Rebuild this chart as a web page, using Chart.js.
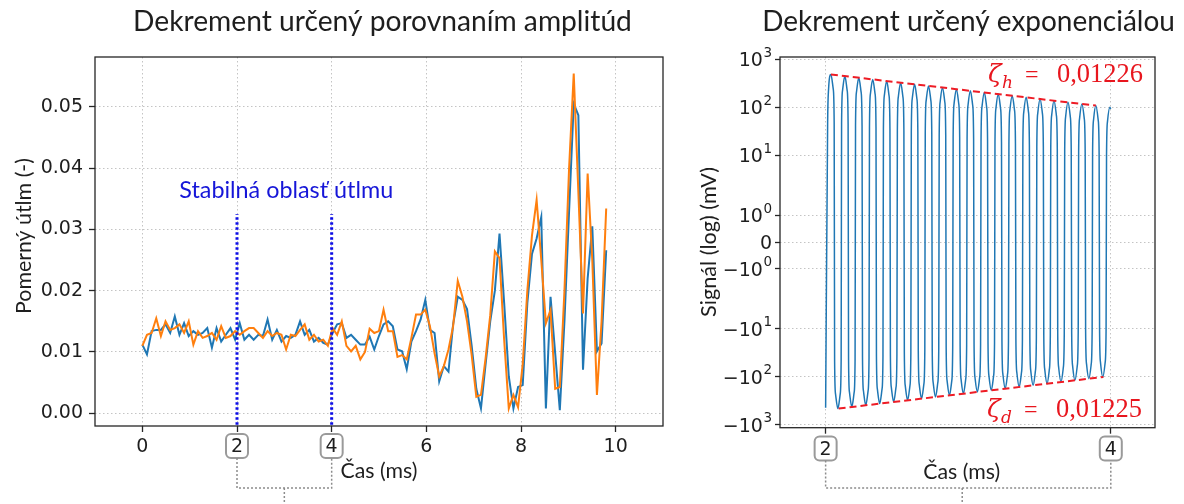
<!DOCTYPE html>
<html><head><meta charset="utf-8">
<script src="https://cdn.jsdelivr.net/npm/chart.js@4.4.1/dist/chart.umd.min.js"></script>
<style>
html,body{margin:0;padding:0;background:#fff;width:1184px;height:504px;overflow:hidden}
#c1{position:absolute;left:0;top:0}
#c2{position:absolute;left:680px;top:0}
</style></head><body>
<canvas id="c1" width="680" height="504"></canvas>
<canvas id="c2" width="504" height="504"></canvas>
<script>
// ---------------- DATA (left chart: damping ratio by amplitude comparison) ----------------
const ampTime = [
0.000,0.098,0.196,0.294,0.392,0.490,0.588,0.686,0.784,0.882,
0.980,1.078,1.176,1.274,1.372,1.470,1.568,1.666,1.764,1.862,
1.960,2.058,2.156,2.254,2.352,2.450,2.548,2.646,2.744,2.842,
2.940,3.038,3.136,3.234,3.332,3.430,3.528,3.626,3.724,3.822,
3.920,4.018,4.116,4.214,4.312,4.410,4.508,4.606,4.704,4.802,
4.900,4.998,5.096,5.194,5.292,5.390,5.488,5.586,5.684,5.782,
5.880,5.978,6.076,6.174,6.272,6.370,6.468,6.566,6.664,6.762,
6.860,6.958,7.056,7.154,7.252,7.350,7.448,7.546,7.644,7.742,
7.840,7.938,8.036,8.134,8.232,8.330,8.428,8.526,8.624,8.722,
8.820,8.918,9.016,9.114,9.212,9.310,9.408,9.506,9.604,9.702,
9.800];
const ampBlue = [
0.0112,0.0096,0.0134,0.0136,0.0136,0.0145,0.0131,0.0158,0.0128,0.0147,
0.0126,0.0134,0.0128,0.0131,0.0139,0.0107,0.0139,0.0117,0.0128,0.0139,
0.0120,0.0147,0.0120,0.0128,0.0120,0.0128,0.0126,0.0153,0.0120,0.0136,
0.0117,0.0126,0.0123,0.0128,0.0150,0.0128,0.0136,0.0117,0.0123,0.0115,
0.0112,0.0131,0.0145,0.0147,0.0123,0.0128,0.0120,0.0112,0.0112,0.0125,
0.0104,0.0126,0.0145,0.0150,0.0142,0.0104,0.0101,0.0072,0.0117,0.0134,
0.0153,0.0185,0.0136,0.0131,0.0052,0.0077,0.0068,0.0145,0.0190,0.0185,
0.0170,0.0110,0.0040,0.0008,0.0080,0.0150,0.0200,0.0293,0.0180,0.0060,
0.0008,0.0043,0.0046,0.0180,0.0260,0.0285,0.0320,0.0008,0.0190,0.0098,
0.0005,0.0150,0.0330,0.0505,0.0486,0.0071,0.0220,0.0305,0.0101,0.0114,
0.0266];
const ampOrange = [
0.0110,0.0128,0.0131,0.0155,0.0126,0.0150,0.0136,0.0139,0.0145,0.0131,
0.0150,0.0112,0.0134,0.0123,0.0126,0.0131,0.0120,0.0142,0.0123,0.0126,
0.0134,0.0128,0.0134,0.0139,0.0139,0.0131,0.0123,0.0134,0.0126,0.0131,
0.0128,0.0104,0.0128,0.0126,0.0136,0.0145,0.0120,0.0128,0.0117,0.0120,
0.0110,0.0139,0.0128,0.0150,0.0110,0.0101,0.0110,0.0088,0.0100,0.0138,
0.0131,0.0134,0.0169,0.0134,0.0134,0.0092,0.0095,0.0088,0.0123,0.0161,
0.0161,0.0169,0.0142,0.0098,0.0060,0.0077,0.0104,0.0142,0.0216,0.0190,
0.0150,0.0095,0.0027,0.0030,0.0090,0.0160,0.0264,0.0253,0.0120,0.0008,
0.0030,0.0010,0.0080,0.0200,0.0290,0.0348,0.0250,0.0147,0.0168,0.0040,
0.0043,0.0200,0.0400,0.0554,0.0360,0.0163,0.0391,0.0250,0.0030,0.0150,
0.0334];
const stableBounds = [2, 4];          // "Stabilná oblasť útlmu" markers (ms)
const stableTop = 0.0325;
const leftXTicks = [0, 2, 4, 6, 8, 10];
const leftYTicks = [0.00, 0.01, 0.02, 0.03, 0.04, 0.05];

// ---------------- DATA (right chart: signal on symlog axis) ----------------
const sigTime = [
2.0000,
2.0141,2.0207,2.0370,2.0533,2.0599, 2.0630,2.0696,2.0859,2.1022,2.1088,
2.1119,2.1185,2.1348,2.1511,2.1577, 2.1608,2.1674,2.1837,2.2000,2.2066,
2.2097,2.2163,2.2326,2.2489,2.2555, 2.2586,2.2652,2.2815,2.2978,2.3044,
2.3075,2.3141,2.3304,2.3467,2.3533, 2.3564,2.3630,2.3793,2.3956,2.4022,
2.4053,2.4119,2.4282,2.4445,2.4511, 2.4542,2.4608,2.4771,2.4934,2.5000,
2.5031,2.5097,2.5260,2.5423,2.5489, 2.5520,2.5586,2.5749,2.5912,2.5978,
2.6009,2.6075,2.6238,2.6401,2.6467, 2.6498,2.6564,2.6727,2.6890,2.6956,
2.6987,2.7053,2.7216,2.7379,2.7445, 2.7476,2.7542,2.7705,2.7868,2.7934,
2.7965,2.8031,2.8194,2.8357,2.8423, 2.8454,2.8520,2.8683,2.8846,2.8912,
2.8943,2.9009,2.9172,2.9335,2.9401, 2.9432,2.9498,2.9661,2.9824,2.9890,
2.9921,2.9987,3.0150,3.0313,3.0379, 3.0410,3.0476,3.0639,3.0802,3.0868,
3.0899,3.0965,3.1128,3.1291,3.1357, 3.1388,3.1454,3.1617,3.1780,3.1846,
3.1877,3.1943,3.2106,3.2269,3.2335, 3.2366,3.2432,3.2595,3.2758,3.2824,
3.2855,3.2921,3.3084,3.3247,3.3313, 3.3344,3.3410,3.3573,3.3736,3.3802,
3.3833,3.3899,3.4062,3.4225,3.4291, 3.4322,3.4388,3.4551,3.4714,3.4780,
3.4811,3.4877,3.5040,3.5203,3.5269, 3.5300,3.5366,3.5529,3.5692,3.5758,
3.5789,3.5855,3.6018,3.6181,3.6247, 3.6278,3.6344,3.6507,3.6670,3.6736,
3.6767,3.6833,3.6996,3.7159,3.7225, 3.7256,3.7322,3.7485,3.7648,3.7714,
3.7745,3.7811,3.7974,3.8137,3.8203, 3.8234,3.8300,3.8463,3.8626,3.8692,
3.8723,3.8789,3.8952,3.9115,3.9181, 3.9212,3.9278,3.9441,3.9604,3.9670,
3.9701,3.9767,3.9930,4.0000];
const sigValue = [
-440,
48,240,480,240,48, -45.5,-227.5,-455,-227.5,-45.5,
44.4,221.9,443.8,221.9,44.4, -42.0,-210.1,-420.2,-210.1,-42.0,
41.0,205.2,410.3,205.2,41.0, -38.8,-194.0,-388.0,-194.0,-38.8,
37.9,189.7,379.4,189.7,37.9, -35.8,-179.2,-358.3,-179.2,-35.8,
35.1,175.4,350.8,175.4,35.1, -33.1,-165.4,-330.8,-165.4,-33.1,
32.4,162.2,324.3,162.2,32.4, -30.6,-152.8,-305.5,-152.8,-30.6,
30.0,150.0,299.9,150.0,30.0, -28.2,-141.1,-282.1,-141.1,-28.2,
27.7,138.7,277.3,138.7,27.7, -26.1,-130.3,-260.5,-130.3,-26.1,
25.6,128.2,256.4,128.2,25.6, -24.1,-120.3,-240.5,-120.3,-24.1,
23.7,118.5,237.0,118.5,23.7, -22.2,-111.1,-222.1,-111.1,-22.2,
21.9,109.6,219.1,109.6,21.9, -20.5,-102.6,-205.1,-102.6,-20.5,
20.3,101.3,202.6,101.3,20.3, -18.9,-94.7,-189.4,-94.7,-18.9,
18.7,93.7,187.3,93.7,18.7, -17.5,-87.5,-174.9,-87.5,-17.5,
17.3,86.6,173.2,86.6,17.3, -16.2,-80.8,-161.5,-80.8,-16.2,
16.0,80.1,160.2,80.1,16.0, -14.9,-74.6,-149.1,-74.6,-14.9,
14.8,74.1,148.1,74.1,14.8, -13.8,-68.9,-137.7,-68.9,-13.8,
13.7,68.5,136.9,68.5,13.7, -12.7,-63.6,-127.1,-63.6,-12.7,
12.7,63.3,126.6,63.3,12.7, -11.7,-58.7,-117.4,-58.7,-11.7,
11.7,58.6,117.1,58.6,11.7, -10.8,-54.2,-108.4,-54.2,-10.8,
10.8,54.1,108.2,54.1,10.8, -10.0,-50.1,-100.1,-50.1,-10.0,
10.0,50.0,100.1,92];
const envTopTime = [2.037, 3.895];
const envTopValue = [480, 108];
const envBotTime = [2.091, 3.948];
const envBotValue = [-455, -100];
const zetaTop = '0,01226';
const zetaBot = '0,01225';
const rightXTicks = [2, 4];
const symTicks = [1000, 100, 10, 1, 0, -1, -10, -100, -1000];
const symTickBase = ['10','10','10','10','0','\u221210','\u221210','\u221210','\u221210'];
const symTickExp  = ['3','2','1','0','','0','1','2','3'];

// ---------------- symlog scale (matplotlib-like, linthresh 2, linscale 1) ----------------
const LINTHRESH = 2, LINSCALE = 1 / (1 - 1 / 10);
function symT(v) { const a = Math.abs(v); return a <= LINTHRESH ? v / LINTHRESH * LINSCALE : Math.sign(v) * (LINSCALE + Math.log10(a / LINTHRESH)); }
function symInv(t) { const a = Math.abs(t); return a <= LINSCALE ? t / LINSCALE * LINTHRESH : Math.sign(t) * LINTHRESH * Math.pow(10, a - LINSCALE); }
class SymLogScale extends Chart.Scale {
  static id = 'symlog';
  static defaults = {};
  parse(raw) { return (typeof raw === 'number' && isFinite(raw)) ? raw : null; }
  determineDataLimits() {
    const mm = this.getMinMax(false);
    this.min = (this.options.min !== undefined) ? this.options.min : mm.min;
    this.max = (this.options.max !== undefined) ? this.options.max : mm.max;
  }
  buildTicks() { return symTicks.map(v => ({ value: v })); }
  configure() { super.configure(); this._t0 = symT(this.min); this._tr = symT(this.max) - this._t0; }
  getPixelForValue(v) { return this.getPixelForDecimal((symT(v) - this._t0) / this._tr); }
  getValueForPixel(p) { return symInv(this.getDecimalForPixel(p) * this._tr + this._t0); }
  getLabelForValue(v) { return String(v); }
}
Chart.register(SymLogScale);

// ---------------- helpers ----------------
const TEXT = '#1e1e1e';
const TICKFONT = { family: "'DejaVu Sans'", size: 19 };
function drawFit(ctx, o) {
  ctx.save();
  ctx.font = (o.style || '') + ' 100px ' + o.family;
  const size = 100 * o.w / ctx.measureText(o.text).width;
  ctx.font = (o.style || '') + ' ' + size + 'px ' + o.family;
  ctx.fillStyle = o.color || TEXT;
  ctx.textAlign = 'center'; ctx.textBaseline = 'middle';
  ctx.translate(o.x, o.y);
  if (o.rot) ctx.rotate(o.rot);
  ctx.fillText(o.text, 0, 0);
  ctx.restore();
}
function frameDraw(chart) {
  const { ctx, chartArea: a } = chart;
  ctx.save(); ctx.strokeStyle = '#262626'; ctx.lineWidth = 1.3;
  ctx.strokeRect(a.left, a.top, a.right - a.left, a.bottom - a.top); ctx.restore();
}
function roundBox(ctx, cx, cy, w, h, r) {
  ctx.beginPath();
  ctx.moveTo(cx - w / 2 + r, cy - h / 2);
  ctx.arcTo(cx + w / 2, cy - h / 2, cx + w / 2, cy + h / 2, r);
  ctx.arcTo(cx + w / 2, cy + h / 2, cx - w / 2, cy + h / 2, r);
  ctx.arcTo(cx - w / 2, cy + h / 2, cx - w / 2, cy - h / 2, r);
  ctx.arcTo(cx - w / 2, cy - h / 2, cx + w / 2, cy - h / 2, r);
  ctx.closePath();
}
function bracket(ctx, xa, xb, yBox, yTop, yLine, yEnd, xMid) {
  ctx.save();
  ctx.strokeStyle = '#9a9a9a'; ctx.lineWidth = 2;
  roundBox(ctx, xa, yBox, 22, 24, 5); ctx.stroke();
  roundBox(ctx, xb, yBox, 22, 24, 5); ctx.stroke();
  ctx.strokeStyle = '#8c8c8c'; ctx.lineWidth = 1.5; ctx.setLineDash([2, 2]);
  ctx.beginPath();
  ctx.moveTo(xa, yTop); ctx.lineTo(xa, yLine); ctx.lineTo(xb, yLine); ctx.lineTo(xb, yTop);
  ctx.moveTo(xMid, yLine); ctx.lineTo(xMid, yEnd);
  ctx.stroke();
  ctx.restore();
}
function gridOpts() {
  return { color: '#c4c4c4', lineWidth: 1, tickColor: '#262626', tickWidth: 1.3, tickLength: 6, drawTicks: true };
}

// ---------------- LEFT CHART ----------------
const leftPlugin = {
  id: 'leftDeco',
  afterDatasetsDraw(chart) { frameDraw(chart); },
  afterDraw(chart) {
    const ctx = chart.ctx, xs = chart.scales.x, ys = chart.scales.y;
    drawFit(ctx, { text: 'Dekrement určený porovnaním amplitúd', x: 382.5, y: 22, w: 499, family: 'Lato' });
    drawFit(ctx, { text: 'Pomerný útlm (-)', x: 24, y: 236, w: 156, family: 'Lato', rot: -Math.PI / 2 });
    drawFit(ctx, { text: 'Čas (ms)', x: (xs.left + xs.right) / 2, y: 471, w: 77, family: 'Lato' });
    drawFit(ctx, { text: 'Stabilná oblasť útlmu', x: xs.getPixelForValue(3.04), y: ys.getPixelForValue(0.0363), w: 214, family: 'Lato', color: '#1616d8' });
    const xa = xs.getPixelForValue(stableBounds[0]), xb = xs.getPixelForValue(stableBounds[1]);
    bracket(ctx, xa, xb, 446, 458, 488, 504, (xa + xb) / 2);
  }
};
new Chart(document.getElementById('c1'), {
  type: 'line',
  data: {
    datasets: [
      { data: ampTime.map((t, i) => ({ x: t, y: ampBlue[i] })), borderColor: '#1f77b4', borderWidth: 2, pointRadius: 0, tension: 0, order: 3 },
      { data: ampTime.map((t, i) => ({ x: t, y: ampOrange[i] })), borderColor: '#ff7f0e', borderWidth: 2, pointRadius: 0, tension: 0, order: 2 },
      { data: [{ x: stableBounds[0], y: -0.01 }, { x: stableBounds[0], y: stableTop }], borderColor: '#0c0ce6', borderWidth: 3, borderDash: [2.5, 2.5], pointRadius: 0, order: 1 },
      { data: [{ x: stableBounds[1], y: -0.01 }, { x: stableBounds[1], y: stableTop }], borderColor: '#0c0ce6', borderWidth: 3, borderDash: [2.5, 2.5], pointRadius: 0, order: 1 }
    ]
  },
  options: {
    responsive: false, animation: false, events: [],
    layout: { padding: { left: 0, top: 57, right: 17, bottom: 38 } },
    plugins: { legend: { display: false }, tooltip: { enabled: false } },
    scales: {
      x: {
        type: 'linear', min: -1, max: 11,
        afterBuildTicks: s => { s.ticks = leftXTicks.map(v => ({ value: v })); },
        afterFit: s => { s.height = 40; },
        ticks: { font: TICKFONT, color: TEXT, padding: 4, maxRotation: 0, callback: v => String(v) },
        grid: gridOpts(), border: { display: false, dash: [1.5, 2.5] }
      },
      y: {
        type: 'linear', min: -0.00207, max: 0.0581,
        afterBuildTicks: s => { s.ticks = leftYTicks.map(v => ({ value: v })); },
        afterFit: s => { s.width = 95; },
        ticks: { font: TICKFONT, color: TEXT, padding: 6, callback: v => Number(v).toFixed(2) },
        grid: gridOpts(), border: { display: false, dash: [1.5, 2.5] }
      }
    }
  },
  plugins: [leftPlugin]
});

// ---------------- RIGHT CHART ----------------
function drawZeta(ctx, sub, value, x, base) {
  ctx.save();
  ctx.fillStyle = '#e8161e';
  ctx.textBaseline = 'alphabetic'; ctx.textAlign = 'left';
  ctx.font = "italic 25px 'DejaVu Serif'";
  ctx.fillText('ζ', x, base);
  ctx.font = "italic 17px 'DejaVu Serif'";
  ctx.fillText(sub, x + 14, base + 6);
  ctx.font = "24px 'Liberation Serif'";
  ctx.fillText('=', x + 37, base);
  ctx.save();
  ctx.font = "100px 'Liberation Serif'";
  const s = 100 * 86 / ctx.measureText(value).width;
  ctx.font = s + "px 'Liberation Serif'";
  ctx.fillText(value, x + 69, base);
  ctx.restore();
  ctx.restore();
}
const rightPlugin = {
  id: 'rightDeco',
  afterDatasetsDraw(chart) { frameDraw(chart); },
  afterDraw(chart) {
    const ctx = chart.ctx, xs = chart.scales.x, ys = chart.scales.y;
    // symlog tick labels with superscripts
    ctx.save(); ctx.fillStyle = TEXT; ctx.textBaseline = 'alphabetic'; ctx.textAlign = 'left';
    symTicks.forEach((v, i) => {
      const py = ys.getPixelForValue(v);
      const right = ys.right - 8;
      ctx.font = "13.5px 'DejaVu Sans'";
      const we = symTickExp[i] ? ctx.measureText(symTickExp[i]).width : 0;
      ctx.font = "19px 'DejaVu Sans'";
      const wb = ctx.measureText(symTickBase[i]).width;
      const xb = right - we - (we ? 0.5 : 0) - wb;
      ctx.fillText(symTickBase[i], xb, py + 7);
      if (symTickExp[i]) { ctx.font = "13.5px 'DejaVu Sans'"; ctx.fillText(symTickExp[i], right - we, py - 2.5); }
    });
    ctx.restore();
    drawFit(ctx, { text: 'Dekrement určený exponenciálou', x: 288.5, y: 22, w: 413, family: 'Lato' });
    drawFit(ctx, { text: 'Signál (log) (mV)', x: 29, y: 242, w: 150, family: 'Lato', rot: -Math.PI / 2 });
    drawFit(ctx, { text: 'Čas (ms)', x: 281.7, y: 472, w: 77, family: 'Lato' });
    drawZeta(ctx, 'h', zetaTop, 308, 82);
    drawZeta(ctx, 'd', zetaBot, 307, 417);
    const xa = xs.getPixelForValue(rightXTicks[0]), xb = xs.getPixelForValue(rightXTicks[1]);
    bracket(ctx, xa, xb, 448.5, 460.5, 488, 504, (xa + xb) / 2 - 6);
  }
};
new Chart(document.getElementById('c2'), {
  type: 'line',
  data: {
    datasets: [
      { data: sigTime.map((t, i) => ({ x: t, y: sigValue[i] })), borderColor: '#1f77b4', borderWidth: 1.5, pointRadius: 0, cubicInterpolationMode: 'monotone', order: 3 },
      { data: envTopTime.map((t, i) => ({ x: t, y: envTopValue[i] })), borderColor: '#ee1c25', borderWidth: 2, borderDash: [7, 4], pointRadius: 0, order: 1 },
      { data: envBotTime.map((t, i) => ({ x: t, y: envBotValue[i] })), borderColor: '#ee1c25', borderWidth: 2, borderDash: [7, 4], pointRadius: 0, order: 1 }
    ]
  },
  options: {
    responsive: false, animation: false, events: [],
    layout: { padding: { left: 0, top: 57, right: 29, bottom: 36.3 } },
    plugins: { legend: { display: false }, tooltip: { enabled: false } },
    scales: {
      x: {
        type: 'linear', min: 1.68, max: 4.31,
        afterBuildTicks: s => { s.ticks = rightXTicks.map(v => ({ value: v })); },
        afterFit: s => { s.height = 40; },
        ticks: { font: TICKFONT, color: TEXT, padding: 5, maxRotation: 0, callback: v => String(v) },
        grid: gridOpts(), border: { display: false, dash: [1.5, 2.5] }
      },
      y: {
        type: 'symlog', min: -1140, max: 1110, position: 'left',
        afterFit: s => { s.width = 100; },
        ticks: { display: false },
        grid: Object.assign(gridOpts(), { tickLength: 5 }), border: { display: false, dash: [1.5, 2.5] }
      }
    }
  },
  plugins: [rightPlugin]
});
</script>
</body></html>
